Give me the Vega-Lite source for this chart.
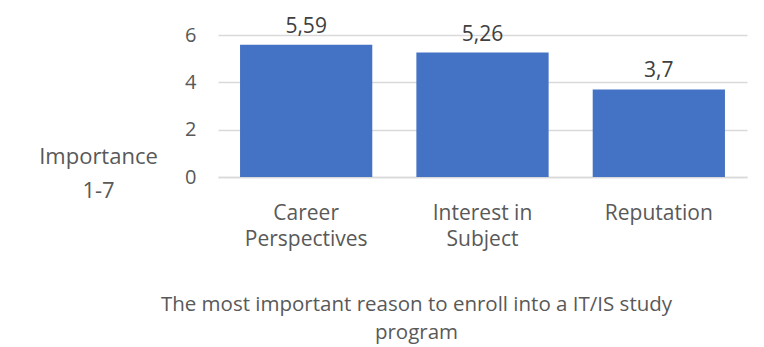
{
  "$schema": "https://vega.github.io/schema/vega-lite/v6.json",
  "autosize": {"type": "none"},
  "width": 529,
  "height": 142,
  "padding": {"left": 218, "top": 35, "right": 17, "bottom": 170},
  "background": "white",
  "config": {
    "view": {"stroke": null},
    "font": "Open Sans",
    "locale": {"number": {"decimal": ",", "thousands": ".", "grouping": [3], "currency": ["", " €"]}}
  },
  "data": {
    "values": [
      {"reason": "Career Perspectives", "importance": 5.59},
      {"reason": "Interest in Subject", "importance": 5.26},
      {"reason": "Reputation", "importance": 3.7}
    ]
  },
  "encoding": {
    "x": {
      "field": "reason",
      "type": "nominal",
      "sort": null,
      "scale": {"paddingInner": 0.25, "paddingOuter": 0.125},
      "axis": {
        "labelAngle": 0,
        "labelExpr": "datum.label == 'Career Perspectives' ? ['Career', 'Perspectives'] : datum.label == 'Interest in Subject' ? ['Interest in', 'Subject'] : datum.label",
        "labelFontSize": 21,
        "labelLineHeight": 26,
        "labelColor": "#595959",
        "labelPadding": 25,
        "ticks": false,
        "domain": true,
        "domainColor": "#d9d9d9",
        "domainWidth": 1.5,
        "title": ["The most important reason to enroll into a IT/IS study", "program"],
        "titleFontSize": 20.5,
        "titleFontWeight": "normal",
        "titleColor": "#595959",
        "titleLineHeight": 28,
        "titleX": 198,
        "titleY": 133,
        "titleAlign": "center",
        "titleBaseline": "alphabetic"
      }
    },
    "y": {
      "field": "importance",
      "type": "quantitative",
      "scale": {"domain": [0, 6]},
      "axis": {
        "values": [0, 2, 4, 6],
        "labelFontSize": 20,
        "labelColor": "#595959",
        "labelPadding": 22,
        "ticks": false,
        "domain": false,
        "grid": true,
        "gridColor": "#d9d9d9",
        "gridWidth": 1.5,
        "title": ["Importance", "1-7"],
        "titleAngle": 0,
        "titleFontSize": 22,
        "titleFontWeight": "normal",
        "titleColor": "#595959",
        "titleLineHeight": 34,
        "titleX": -120,
        "titleY": 128,
        "titleAlign": "center",
        "titleBaseline": "alphabetic"
      }
    }
  },
  "layer": [
    {"mark": {"type": "bar", "color": "#4472C4"}},
    {
      "mark": {"type": "text", "baseline": "bottom", "dy": -8, "fontSize": 21, "color": "#404040"},
      "encoding": {"text": {"field": "importance", "type": "quantitative", "format": "~g"}}
    }
  ]
}
